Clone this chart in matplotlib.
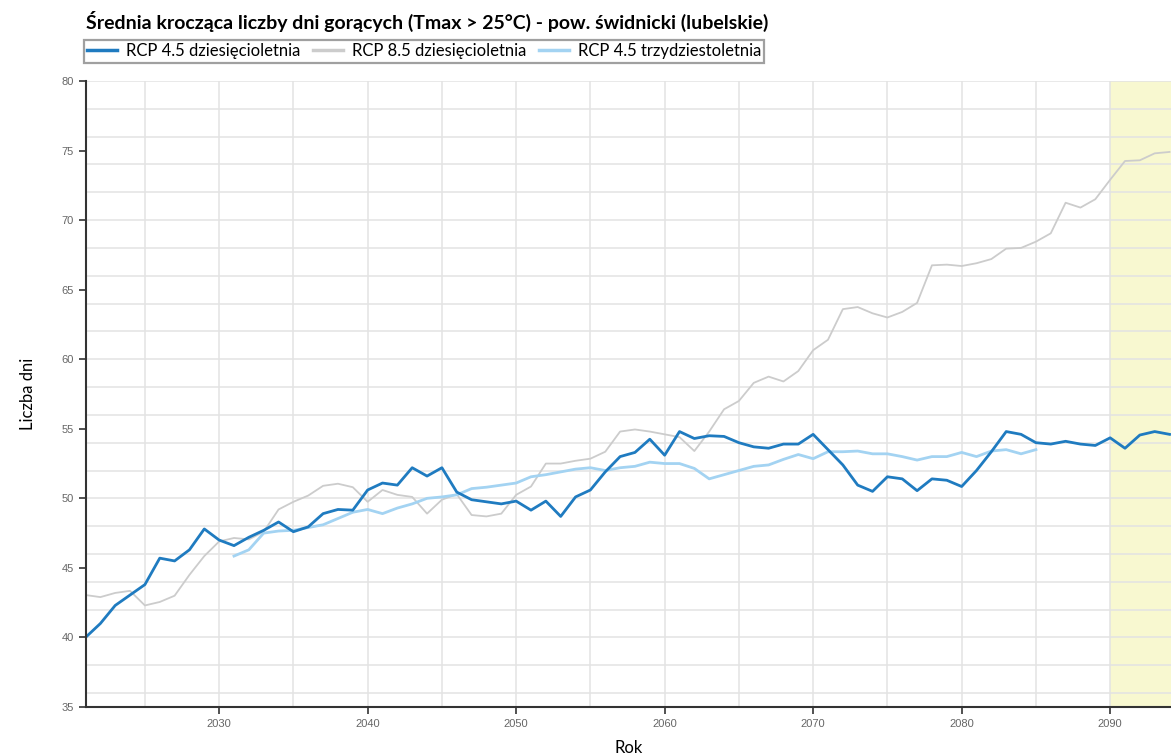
import numpy as np
import matplotlib
matplotlib.use("Agg")
import matplotlib.pyplot as plt

# Data (one value per year)
years_rcp45 = list(range(2021, 2095))
rcp45_10 = [40.0, 41.0, 42.3, 43.05, 43.8, 45.7, 45.5, 46.3, 47.8, 47.0,
            46.6, 47.2, 47.7, 48.3, 47.6, 47.95, 48.9, 49.2, 49.15, 50.6,
            51.1, 50.95, 52.2, 51.6, 52.2, 50.45, 49.9, 49.75, 49.6, 49.8,
            49.15, 49.8, 48.7, 50.1, 50.6, 51.9, 53.0, 53.3, 54.25, 53.1,
            54.8, 54.3, 54.5, 54.45, 54.0, 53.7, 53.6, 53.9, 53.9, 54.6,
            53.5, 52.4, 50.95, 50.5, 51.55, 51.4, 50.55, 51.4, 51.3, 50.85,
            52.0, 53.35, 54.8, 54.6, 54.0, 53.9, 54.1, 53.9, 53.8, 54.35,
            53.6, 54.55, 54.8, 54.6]

years_rcp85 = list(range(2021, 2095))
rcp85_10 = [43.05, 42.9, 43.2, 43.35, 42.3, 42.55, 43.0, 44.5, 45.85, 46.9,
            47.15, 47.05, 47.6, 49.2, 49.75, 50.2, 50.9, 51.05, 50.8, 49.75,
            50.6, 50.25, 50.1, 48.9, 49.9, 50.3, 48.8, 48.7, 48.9, 50.25,
            50.85, 52.5, 52.5, 52.7, 52.85, 53.35, 54.8, 54.95, 54.8, 54.6,
            54.4, 53.4, 54.8, 56.4, 57.0, 58.3, 58.75, 58.4, 59.15, 60.65,
            61.4, 63.6, 63.75, 63.3, 63.0, 63.4, 64.05, 66.75, 66.8, 66.7,
            66.9, 67.2, 67.95, 68.0, 68.45, 69.05, 71.25, 70.9, 71.5, 72.9,
            74.25, 74.3, 74.8, 74.9]

years_rcp45_30 = list(range(2031, 2086))
rcp45_30 = [45.85, 46.3, 47.5, 47.65, 47.7, 47.9, 48.1, 48.55, 49.0, 49.2,
            48.9, 49.3, 49.6, 50.0, 50.1, 50.25, 50.7, 50.8, 50.95, 51.1,
            51.55, 51.7, 51.9, 52.1, 52.2, 52.0, 52.2, 52.3, 52.6, 52.5,
            52.5, 52.15, 51.4, 51.7, 52.0, 52.3, 52.4, 52.8, 53.15, 52.85,
            53.35, 53.35, 53.4, 53.2, 53.2, 53.0, 52.75, 53.0, 53.0, 53.3,
            53.0, 53.4, 53.5, 53.2, 53.5]

labels = ["RCP 4.5 dziesięcioletnia", "RCP 8.5 dziesięcioletnia", "RCP 4.5 trzydziestoletnia"]
colors = ["#1f7bc0", "#cccccc", "#a3d3f2"]

title = "Średnia krocząca liczby dni gorących (Tmax > 25°C) - pow. świdnicki (lubelskie)"

fig = plt.figure(figsize=(11.71, 7.56), dpi=100)
ax = fig.add_axes([85.5 / 1171, 49 / 756, (1171 - 85.5) / 1171, 626 / 756])

# highlighted period
ax.axvspan(2090, 2100, color="#f8f8d0", zorder=0, lw=0)

# grid
for x in range(2025, 2095, 5):
    ax.axvline(x, color="#e3e3e3", lw=1.1, zorder=1)
for y in range(36, 81, 2):
    ax.axhline(y, color="#e3e3e3", lw=1.1, zorder=1)

l2, = ax.plot(years_rcp85, rcp85_10, color=colors[1], lw=1.3, zorder=3)
l3, = ax.plot(years_rcp45_30, rcp45_30, color=colors[2], lw=2.0, zorder=4)
l1, = ax.plot(years_rcp45, rcp45_10, color=colors[0], lw=2.0, zorder=5)

ax.set_xlim(2021, 2021 + (1171 - 85.5) / 14.85)
ax.set_ylim(35, 80)
ax.set_xticks(range(2030, 2091, 10))
ax.set_yticks(range(35, 81, 5))
ax.tick_params(axis="both", labelsize=8, labelcolor="#666666", color="#333333",
               length=5, width=1.2)
for lab in ax.get_xticklabels() + ax.get_yticklabels():
    lab.set_family("Liberation Sans")

for s in ["top", "right"]:
    ax.spines[s].set_visible(False)
for s in ["left", "bottom"]:
    ax.spines[s].set_color("#333333")
    ax.spines[s].set_linewidth(1.5)
    ax.spines[s].set_zorder(6)

ax.set_xlabel("Rok", fontsize=12, family="Lato", labelpad=8)
ax.set_ylabel("Liczba dni", fontsize=12, family="Lato", labelpad=18)

fig.text(86 / 1171, 1 - 21 / 756, title, fontsize=14, fontweight="bold",
         family="Lato", va="center", ha="left")

leg = fig.legend([l1, l2, l3], labels, ncol=3, loc="upper left",
                 bbox_to_anchor=(84 / 1171, 1 - 40 / 756),
                 prop={"family": "Lato", "size": 12}, frameon=True,
                 fancybox=False, handlelength=1.8, handletextpad=0.5,
                 columnspacing=0.8, borderpad=0.2, borderaxespad=0)
leg.get_frame().set_edgecolor("#888888")
leg.get_frame().set_linewidth(1.6)
for h in leg.get_lines():
    h.set_linewidth(2.5)

fig.savefig("out.png", dpi=100)
